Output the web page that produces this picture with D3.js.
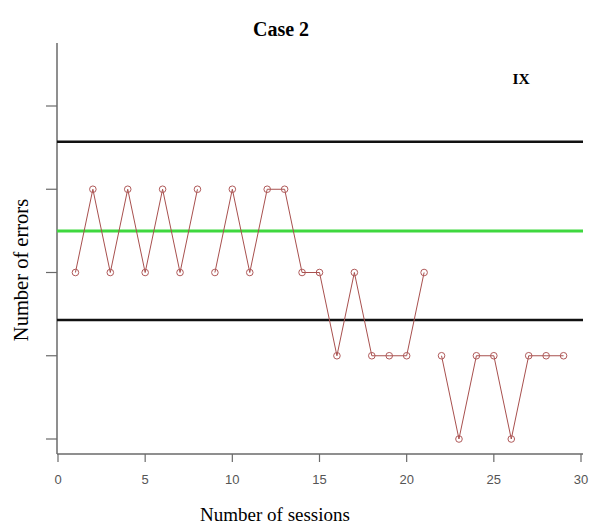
<!DOCTYPE html>
<html><head><meta charset="utf-8">
<script src="https://cdn.jsdelivr.net/npm/d3@7"></script>
<style>body{margin:0;background:#fff}</style>
</head><body>
<svg id="c" width="594" height="529"></svg>
<script>
const sessions = [1,2,3,4,5,6,7,8,9,10,11,12,13,14,15,16,17,18,19,20,21,22,23,24,25,26,27,28,29];
const errors   = [2,3,2,3,2,3,2,3,2,3,2,3,3,2,2,1,2,1,1,1,2,1,0,1,1,0,1,1,1];
const phase    = [1,1,1,1,1,1,1,1,2,2,2,2,2,2,2,2,2,2,2,2,2,3,3,3,3,3,3,3,3];
const upperLine = 3.57, meanLine = 2.5, lowerLine = 1.43;
const xTicks = [0,5,10,15,20,25,30];
const yTicks = [0,1,2,3,4];

const svg = d3.select("#c");
const x = d3.scaleLinear().domain([0,30]).range([58,581]);
const y = d3.scaleLinear().domain([0,4]).range([439,106]);
const x0 = 57, x1 = 583, yTop = 43, yBot = 454;

// axes
svg.append("line").attr("x1",x0).attr("x2",x0).attr("y1",yTop).attr("y2",yBot)
  .attr("stroke","#6a6a6a").attr("stroke-width",1.5);
svg.append("line").attr("x1",x0).attr("x2",x1).attr("y1",yBot).attr("y2",yBot)
  .attr("stroke","#6a6a6a").attr("stroke-width",1.5);
svg.selectAll(".yt").data(yTicks).enter().append("line")
  .attr("x1",46).attr("x2",x0).attr("y1",d=>y(d)).attr("y2",d=>y(d))
  .attr("stroke","#6a6a6a").attr("stroke-width",1.2);
svg.selectAll(".xt").data(xTicks).enter().append("line")
  .attr("x1",d=>x(d)).attr("x2",d=>x(d)).attr("y1",yBot).attr("y2",yBot+8)
  .attr("stroke","#6a6a6a").attr("stroke-width",1.2);
svg.selectAll(".xl").data(xTicks).enter().append("text")
  .attr("x",d=>x(d)).attr("y",484).attr("text-anchor","middle")
  .attr("font-family","Liberation Sans, Arial, sans-serif").attr("font-size",13)
  .attr("fill","#555").text(d=>d);

// reference lines
svg.append("line").attr("x1",x0).attr("x2",x1).attr("y1",y(upperLine)).attr("y2",y(upperLine))
  .attr("stroke","#111").attr("stroke-width",2.5);
svg.append("line").attr("x1",x0).attr("x2",x1).attr("y1",y(lowerLine)).attr("y2",y(lowerLine))
  .attr("stroke","#111").attr("stroke-width",2.5);
svg.append("line").attr("x1",x0).attr("x2",x1).attr("y1",y(meanLine)).attr("y2",y(meanLine))
  .attr("stroke","#3fd83f").attr("stroke-width",3);

// series
const pts = sessions.map((s,i)=>({s, e:errors[i], p:phase[i]}));
const groups = d3.groups(pts, d=>d.p);
const line = d3.line().x(d=>x(d.s)).y(d=>y(d.e));
groups.forEach(([k,arr])=>{
  svg.append("path").attr("d",line(arr)).attr("fill","none")
    .attr("stroke","#a8504e").attr("stroke-width",1);
});
svg.selectAll(".pt").data(pts).enter().append("circle")
  .attr("cx",d=>x(d.s)).attr("cy",d=>y(d.e)).attr("r",3.3)
  .attr("fill","none").attr("stroke","#b05a5a").attr("stroke-width",1);

// texts
svg.append("text").attr("x",281).attr("y",36).attr("text-anchor","middle")
  .attr("font-family","Liberation Serif, Times New Roman, serif").attr("font-weight","bold")
  .attr("font-size",20).text("Case 2");
svg.append("text").attr("x",521).attr("y",84).attr("text-anchor","middle")
  .attr("font-family","Liberation Serif, Times New Roman, serif").attr("font-weight","bold")
  .attr("font-size",15.5).text("IX");
svg.append("text").attr("transform","translate(28,270) rotate(-90)").attr("text-anchor","middle")
  .attr("font-family","Liberation Serif, Times New Roman, serif")
  .attr("font-size",20.5).text("Number of errors");
svg.append("text").attr("x",275).attr("y",521).attr("text-anchor","middle")
  .attr("font-family","Liberation Serif, Times New Roman, serif")
  .attr("font-size",19).text("Number of sessions");
</script>
</body></html>
